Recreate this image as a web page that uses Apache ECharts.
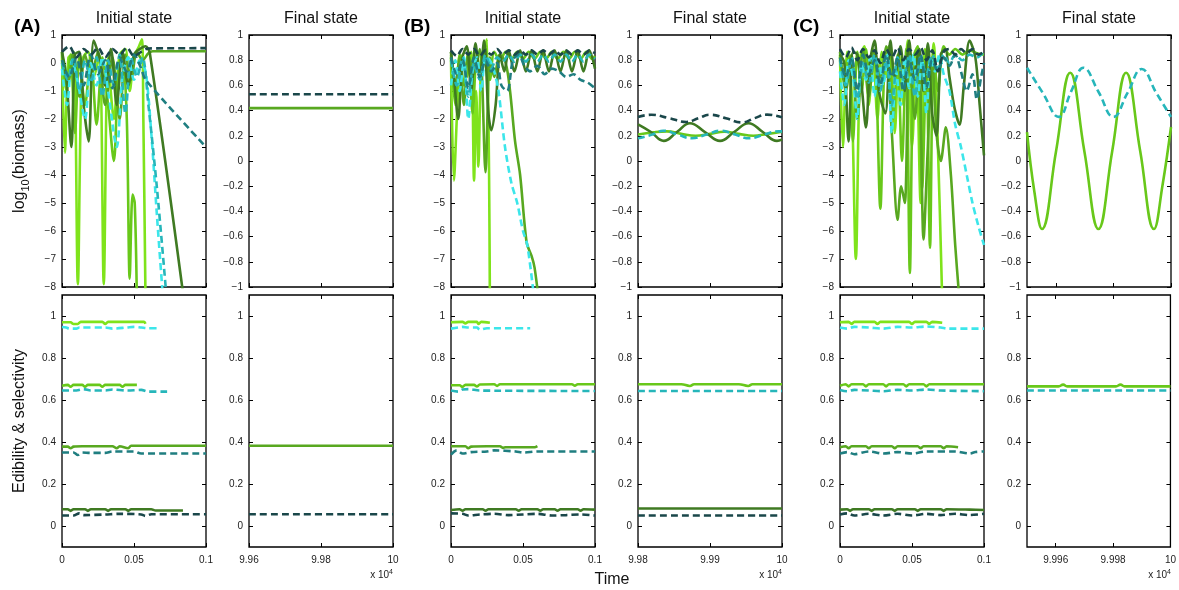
<!DOCTYPE html>
<html><head><meta charset="utf-8">
<script src="https://cdn.jsdelivr.net/npm/echarts@6/dist/echarts.min.js"></script>
<style>html,body{margin:0;padding:0;background:#fff}#c{width:1179px;height:590px}</style>
</head><body><div id="c"></div>
<script>
// ---------- DATA: top row, initial state (log10 biomass) ----------
const A_top_c1 = [[0,0.3],[0.002,-3.2],[0.0045,0.2],[0.008,0.3],[0.011,-7.9],[0.014,0.1],[0.018,0.4],[0.022,-0.5],[0.026,0.3],[0.029,-7.9],[0.032,0.2],[0.036,-2.0],[0.040,0.3],[0.044,0.5],[0.047,-1.0],[0.050,0.2],[0.0535,0.6],[0.0555,0.85],[0.0565,-2.0],[0.058,-8.5]];
const A_top_c2 = [[0,0.4],[0.003,-1.0],[0.006,0.3],[0.009,-2.5],[0.012,0.2],[0.016,-1.5],[0.020,0.3],[0.024,-2.2],[0.028,0.2],[0.032,-1.5],[0.036,-3.5],[0.039,-0.5],[0.042,0.3],[0.045,-2.0],[0.047,-7.7],[0.049,-4.7],[0.0505,-5.0],[0.052,-8.5]];
const A_top_c3 = [[0,0.35],[0.004,-0.8],[0.008,0.4],[0.012,-1.2],[0.016,0.3],[0.020,-0.5],[0.025,0.4],[0.030,-1.5],[0.035,0.2],[0.040,-2.0],[0.044,0.3],[0.048,-0.6],[0.052,0.4],[0.056,0.1],[0.060,0.35],[0.063,0.42],[0.1,0.42]];
const A_top_c4 = [[0,0.4],[0.003,-0.5],[0.0065,-3.0],[0.009,0.3],[0.012,0.4],[0.015,-1.5],[0.0185,-2.8],[0.022,0.8],[0.026,0.2],[0.030,-0.8],[0.034,0.5],[0.038,-1.5],[0.042,0.4],[0.046,-0.8],[0.050,0.3],[0.054,0.5],[0.058,0.6],[0.061,0.35],[0.084,-8.2]];
const A_top_d1 = [[0,-0.2],[0.0035,-1.5],[0.007,0.1],[0.011,-0.7],[0.016,-2.0],[0.020,0.0],[0.024,-0.8],[0.028,0.2],[0.032,-1.0],[0.038,-3.0],[0.042,-0.5],[0.046,0.2],[0.050,-0.6],[0.054,0.1],[0.058,-0.3],[0.062,-2.5],[0.066,-5.5],[0.070,-8.3]];
const A_top_d2 = [[0,0.0],[0.004,-0.6],[0.008,0.2],[0.012,-1.0],[0.016,0.1],[0.020,-0.7],[0.024,0.2],[0.028,-1.2],[0.032,0.1],[0.036,-0.8],[0.040,0.3],[0.044,-1.8],[0.048,0.2],[0.052,-0.5],[0.056,0.2],[0.060,-1.5],[0.066,-4.5],[0.0725,-8.3]];
const A_top_d3 = [[0,0.1],[0.005,-0.5],[0.010,0.2],[0.015,-0.8],[0.020,0.3],[0.025,-0.4],[0.030,0.1],[0.035,-0.9],[0.040,0.2],[0.045,-0.3],[0.050,0.3],[0.055,-0.2],[0.058,-0.6],[0.1,-3.0]];
const A_top_d4 = [[0,0.4],[0.005,0.6],[0.010,0.2],[0.015,0.5],[0.020,0.3],[0.025,0.55],[0.030,0.2],[0.035,0.5],[0.040,0.3],[0.045,0.55],[0.050,0.25],[0.055,0.4],[0.060,0.52],[0.1,0.53]];

const B_top_c1 = [[0,0.2],[0.002,-4.2],[0.005,-1.0],[0.008,0.3],[0.011,-0.5],[0.014,0.4],[0.016,-4.2],[0.0175,-1.0],[0.019,-3.7],[0.021,0.2],[0.023,0.5],[0.025,0.85],[0.027,-8.5]];
const B_top_c2 = [[0,0.3],[0.003,-1.5],[0.006,0.3],[0.009,-0.8],[0.012,0.4],[0.015,-1.8],[0.018,0.3],[0.021,-0.5],[0.024,0.5],[0.027,-0.6],[0.030,0.4],[0.034,0.1],[0.038,0.4],[0.042,0.15],[0.046,0.4],[0.050,0.15],[0.054,0.4],[0.058,0.15],[0.062,0.4],[0.066,0.15],[0.070,0.4],[0.074,0.15],[0.078,0.4],[0.082,0.15],[0.086,0.4],[0.090,0.15],[0.094,0.4],[0.098,0.15],[0.1,0.25]];
const B_top_c3 = [[0,0.4],[0.003,-0.8],[0.006,0.2],[0.009,-1.5],[0.012,0.3],[0.016,-0.4],[0.020,0.5],[0.024,-3.9],[0.027,0.2],[0.030,-0.5],[0.034,0.3],[0.038,0.0],[0.041,-1.0],[0.0445,-2.8],[0.048,-4.0],[0.0525,-6.4],[0.056,-6.9],[0.058,-7.3],[0.061,-8.5]];
const B_top_c4 = [[0,0.4],[0.002,-0.5],[0.005,-2.0],[0.008,0.2],[0.011,0.6],[0.014,-1.0],[0.017,0.7],[0.020,-0.5],[0.023,0.8],[0.026,-1.8],[0.028,-2.4],[0.031,-1.5],[0.034,0.3],[0.037,-0.3],[0.040,0.45],[0.044,-0.3],[0.048,0.45],[0.052,-0.3],[0.056,0.45],[0.060,-0.3],[0.064,0.45],[0.068,-0.3],[0.072,0.45],[0.076,-0.3],[0.080,0.45],[0.084,-0.3],[0.088,0.45],[0.092,-0.3],[0.096,0.45],[0.1,-0.2]];
const B_top_d1 = [[0,-0.8],[0.003,0.1],[0.006,-1.0],[0.009,0.2],[0.012,-2.0],[0.015,-0.3],[0.018,0.2],[0.021,-1.0],[0.024,0.2],[0.027,0.1],[0.030,-0.3],[0.033,-1.0],[0.0375,-3.0],[0.042,-4.3],[0.046,-5.0],[0.050,-6.0],[0.053,-6.5],[0.0575,-8.3]];
const B_top_d2 = [[0,0.1],[0.004,-0.8],[0.008,0.2],[0.012,-1.2],[0.016,0.0],[0.020,-0.6],[0.024,0.3],[0.028,-0.2],[0.032,0.2],[0.036,0.05],[0.040,0.3],[0.044,0.05],[0.048,0.3],[0.052,0.05],[0.056,0.3],[0.060,0.05],[0.064,0.3],[0.068,0.05],[0.072,0.3],[0.076,0.05],[0.080,0.3],[0.084,0.05],[0.088,0.3],[0.092,0.05],[0.096,0.3],[0.1,0.15]];
const B_top_d3 = [[0,0.2],[0.004,-0.4],[0.008,0.1],[0.012,-0.9],[0.016,0.2],[0.020,-0.5],[0.024,0.1],[0.028,-0.3],[0.032,0.0],[0.035,-0.8],[0.039,-1.0],[0.043,0.1],[0.047,0.3],[0.051,-0.1],[0.055,-0.3],[0.060,-0.1],[0.065,-0.4],[0.070,-0.2],[0.075,-0.3],[0.080,-0.5],[0.085,-0.4],[0.090,-0.6],[0.095,-0.7],[0.1,-0.9]];
const B_top_d4 = [[0,0.45],[0.004,0.25],[0.008,0.5],[0.012,0.3],[0.016,0.5],[0.020,0.25],[0.024,0.45],[0.028,0.3],[0.032,0.5],[0.036,0.3],[0.040,0.45],[0.044,0.3],[0.048,0.45],[0.052,0.3],[0.056,0.45],[0.060,0.3],[0.064,0.45],[0.068,0.3],[0.072,0.45],[0.076,0.3],[0.080,0.45],[0.084,0.3],[0.088,0.45],[0.092,0.3],[0.096,0.45],[0.1,0.35]];

const C_top_c1 = [[0,0.3],[0.002,-3.0],[0.005,0.4],[0.008,-1.0],[0.011,-7.0],[0.014,0.2],[0.017,0.6],[0.020,-1.5],[0.023,0.5],[0.026,-2.0],[0.029,0.4],[0.032,-0.5],[0.035,0.7],[0.038,-2.5],[0.041,0.3],[0.044,-1.5],[0.047,0.8],[0.050,-3.0],[0.053,0.4],[0.056,-5.0],[0.059,0.5],[0.062,-1.5],[0.065,0.7],[0.068,-3.0],[0.071,-8.5]];
const C_top_c2 = [[0,0.2],[0.003,-0.5],[0.006,0.3],[0.009,-2.8],[0.012,0.4],[0.015,-1.0],[0.018,0.5],[0.021,-0.8],[0.024,0.3],[0.028,-5.2],[0.031,0.2],[0.034,0.6],[0.037,-2.0],[0.040,0.3],[0.043,-3.5],[0.046,0.5],[0.0485,-7.5],[0.051,0.2],[0.054,0.6],[0.057,-4.5],[0.060,0.3],[0.0625,-6.6],[0.065,0.4],[0.068,-1.0],[0.072,0.6],[0.076,0.3],[0.080,0.5],[0.085,0.3],[0.090,0.45],[0.095,0.35],[0.1,0.3]];
const C_top_c3 = [[0,0.4],[0.004,-1.0],[0.008,0.3],[0.012,-2.0],[0.016,0.5],[0.020,-1.2],[0.024,0.4],[0.028,-0.5],[0.032,0.6],[0.036,-2.5],[0.040,-5.6],[0.0425,-4.4],[0.045,-5.0],[0.048,0.3],[0.052,-2.0],[0.055,0.4],[0.058,-6.3],[0.061,-3.0],[0.064,0.2],[0.067,-2.5],[0.070,-3.5],[0.0735,-2.3],[0.077,-4.0],[0.080,-6.5],[0.083,-8.5]];
const C_top_c4 = [[0,0.3],[0.003,0.0],[0.006,-2.8],[0.009,0.4],[0.012,0.3],[0.015,-0.8],[0.018,-2.3],[0.021,0.1],[0.024,0.8],[0.027,-1.0],[0.0315,-1.8],[0.035,0.8],[0.038,-0.5],[0.042,0.6],[0.045,-1.0],[0.048,0.8],[0.051,-0.5],[0.055,0.5],[0.058,-1.0],[0.061,0.7],[0.064,-1.8],[0.067,-2.6],[0.070,0.3],[0.073,0.5],[0.076,-0.5],[0.0795,-1.6],[0.083,-2.2],[0.086,-0.8],[0.090,0.8],[0.094,0.2],[0.097,-1.5],[0.1,-3.3]];
const C_top_d1 = [[0,-0.3],[0.003,-1.5],[0.006,0.1],[0.009,-0.5],[0.012,-2.0],[0.015,0.0],[0.018,-0.6],[0.021,0.2],[0.024,-1.2],[0.027,0.1],[0.030,-0.8],[0.033,0.3],[0.036,-2.5],[0.039,-0.3],[0.042,-1.5],[0.045,0.2],[0.048,-0.9],[0.051,0.3],[0.054,-1.2],[0.057,0.1],[0.060,-1.8],[0.063,0.2],[0.066,-0.3],[0.069,0.3],[0.072,-0.4],[0.076,-1.0],[0.080,-2.2],[0.084,-3.0],[0.088,-4.0],[0.092,-5.0],[0.096,-5.8],[0.1,-6.5]];
const C_top_d2 = [[0,0.1],[0.004,-0.8],[0.008,0.2],[0.012,-1.3],[0.016,0.0],[0.020,-0.7],[0.024,0.3],[0.028,-1.0],[0.032,0.1],[0.036,-1.5],[0.040,0.2],[0.044,-0.6],[0.048,0.3],[0.052,-1.2],[0.056,0.2],[0.060,-0.4],[0.064,0.3],[0.068,-0.2],[0.072,0.3],[0.076,0.0],[0.080,0.3],[0.085,0.1],[0.090,0.3],[0.095,0.2],[0.1,0.4]];
const C_top_d3 = [[0,0.2],[0.004,-0.5],[0.008,0.2],[0.012,-1.0],[0.016,0.3],[0.020,-0.4],[0.024,0.1],[0.028,-0.8],[0.032,0.3],[0.036,-0.5],[0.040,0.2],[0.044,-1.0],[0.048,0.1],[0.052,-0.6],[0.056,0.3],[0.060,-0.9],[0.064,0.1],[0.068,-0.3],[0.072,0.2],[0.076,-0.1],[0.080,0.3],[0.084,-0.3],[0.088,-1.0],[0.092,-0.4],[0.095,-1.3],[0.098,-0.5],[0.1,0.0]];
const C_top_d4 = [[0,0.5],[0.004,0.2],[0.008,0.55],[0.012,0.1],[0.016,0.5],[0.020,0.2],[0.024,0.45],[0.028,0.0],[0.032,0.5],[0.036,0.2],[0.040,0.55],[0.044,0.1],[0.048,0.5],[0.052,0.3],[0.056,0.55],[0.060,0.1],[0.064,0.45],[0.068,-0.3],[0.072,0.4],[0.076,0.5],[0.080,0.3],[0.084,0.5],[0.088,0.35],[0.092,0.5],[0.096,0.3],[0.1,0.4]];

// ---------- DATA: top row, final state (x in units of 10^4) ----------
const A_fin_c3 = [[9.96,0.42],[10,0.42]];
const A_fin_d4 = [[9.96,0.53],[10,0.53]];
const B_fin_c2 = [[9.98,0.21],[9.9822,0.228],[9.984,0.235],[9.986,0.215],[9.988,0.2],[9.99,0.215],[9.992,0.232],[9.994,0.215],[9.996,0.2],[9.998,0.215],[10,0.232]];
const B_fin_c4 = [[9.98,0.29],[9.9818,0.23],[9.98358,0.16],[9.9854,0.23],[9.98721,0.30],[9.9893,0.23],[9.9914,0.16],[9.99335,0.23],[9.99535,0.30],[9.99733,0.23],[9.9993,0.16],[10,0.17]];
const B_fin_d2 = [[9.98,0.18],[9.982,0.21],[9.9835,0.24],[9.9855,0.21],[9.9875,0.18],[9.9895,0.21],[9.9915,0.24],[9.9935,0.21],[9.9955,0.18],[9.9975,0.21],[9.9995,0.235],[10,0.235]];
const B_fin_d4 = [[9.98,0.35],[9.98186,0.367],[9.9843,0.34],[9.98674,0.31],[9.9884,0.34],[9.99,0.367],[9.9922,0.34],[9.99442,0.306],[9.9962,0.34],[9.99791,0.368],[10,0.347]];
const C_fin_c2 = [[9.995,0.23],[9.99526,-0.25],[9.99552,-0.54],[9.99601,0.08],[9.9965,0.70],[9.99699,0.08],[9.99748,-0.54],[9.99796,0.08],[9.99844,0.70],[9.99893,0.08],[9.99941,-0.54],[9.9997,-0.2],[10,0.27]];
const C_fin_d2 = [[9.995,0.74],[9.99555,0.54],[9.9961,0.35],[9.99653,0.55],[9.99696,0.74],[9.99748,0.55],[9.998,0.35],[9.99849,0.54],[9.99898,0.73],[9.99949,0.54],[10,0.35]];

// ---------- DATA: bottom row, initial state (edibility & selectivity) ----------
const A_bot_c1 = [[0,0.97],[0.006,0.97],[0.008,0.962],[0.011,0.962],[0.013,0.972],[0.028,0.972],[0.030,0.962],[0.032,0.972],[0.057,0.972],[0.058,0.963]];
const A_bot_c2 = [[0,0.668],[0.004,0.672],[0.006,0.663],[0.008,0.672],[0.014,0.672],[0.016,0.663],[0.018,0.672],[0.026,0.672],[0.028,0.663],[0.030,0.672],[0.040,0.672],[0.042,0.663],[0.044,0.672],[0.052,0.672]];
const A_bot_c3 = [[0,0.378],[0.004,0.378],[0.006,0.37],[0.008,0.378],[0.014,0.38],[0.035,0.38],[0.038,0.37],[0.040,0.38],[0.046,0.37],[0.048,0.382],[0.1,0.382]];
const A_bot_c4 = [[0,0.08],[0.004,0.08],[0.006,0.072],[0.008,0.08],[0.016,0.08],[0.018,0.072],[0.020,0.08],[0.030,0.08],[0.032,0.072],[0.034,0.08],[0.044,0.08],[0.046,0.072],[0.048,0.08],[0.062,0.08],[0.065,0.074],[0.084,0.074]];
const A_bot_d1 = [[0,0.948],[0.003,0.945],[0.005,0.940],[0.010,0.940],[0.012,0.945],[0.030,0.945],[0.035,0.940],[0.045,0.945],[0.050,0.948],[0.055,0.945],[0.060,0.942],[0.066,0.942]];
const A_bot_d2 = [[0,0.645],[0.010,0.645],[0.015,0.652],[0.020,0.645],[0.030,0.645],[0.035,0.650],[0.045,0.645],[0.055,0.648],[0.060,0.640],[0.073,0.640]];
const A_bot_d3 = [[0,0.35],[0.008,0.35],[0.011,0.338],[0.014,0.35],[0.020,0.348],[0.030,0.348],[0.035,0.355],[0.050,0.355],[0.055,0.345],[0.1,0.345]];
const A_bot_d4 = [[0,0.05],[0.008,0.05],[0.012,0.06],[0.015,0.052],[0.030,0.055],[0.040,0.058],[0.055,0.055],[0.058,0.048],[0.062,0.056],[0.1,0.056]];

const B_bot_c1 = [[0,0.97],[0.008,0.972],[0.010,0.965],[0.012,0.972],[0.018,0.972],[0.019,0.962],[0.021,0.972],[0.027,0.968]];
const B_bot_c2 = [[0,0.67],[0.006,0.67],[0.008,0.662],[0.010,0.672],[0.016,0.672],[0.018,0.664],[0.020,0.674],[0.030,0.675],[0.032,0.667],[0.034,0.675],[0.084,0.675],[0.086,0.668],[0.088,0.675],[0.1,0.675]];
const B_bot_c3 = [[0,0.38],[0.010,0.38],[0.012,0.37],[0.014,0.378],[0.025,0.38],[0.034,0.38],[0.036,0.372],[0.038,0.375],[0.058,0.375],[0.060,0.38]];
const B_bot_c4 = [[0,0.076],[0.006,0.08],[0.008,0.073],[0.010,0.08],[0.022,0.08],[0.024,0.073],[0.026,0.08],[0.045,0.08],[0.047,0.073],[0.049,0.08],[0.060,0.08],[0.062,0.073],[0.064,0.08],[0.072,0.08],[0.074,0.073],[0.076,0.08],[0.088,0.08],[0.090,0.073],[0.092,0.08],[0.1,0.078]];
const B_bot_d1 = [[0,0.94],[0.005,0.945],[0.008,0.948],[0.012,0.945],[0.018,0.945],[0.020,0.935],[0.025,0.942],[0.055,0.942]];
const B_bot_d2 = [[0,0.645],[0.005,0.64],[0.008,0.65],[0.012,0.652],[0.020,0.645],[0.1,0.643]];
const B_bot_d3 = [[0,0.34],[0.004,0.36],[0.008,0.345],[0.014,0.352],[0.025,0.355],[0.030,0.36],[0.045,0.355],[0.050,0.35],[0.060,0.355],[0.1,0.355]];
const B_bot_d4 = [[0,0.06],[0.008,0.058],[0.012,0.05],[0.020,0.055],[0.030,0.058],[0.040,0.052],[0.050,0.055],[0.060,0.058],[0.070,0.05],[0.080,0.052],[0.090,0.055],[0.1,0.05]];

const C_bot_c1 = [[0,0.97],[0.006,0.972],[0.008,0.962],[0.010,0.972],[0.024,0.972],[0.026,0.962],[0.028,0.972],[0.048,0.972],[0.050,0.962],[0.052,0.972],[0.060,0.972],[0.062,0.962],[0.064,0.972],[0.071,0.968]];
const C_bot_c2 = [[0,0.668],[0.004,0.675],[0.006,0.665],[0.008,0.675],[0.016,0.675],[0.018,0.665],[0.020,0.675],[0.030,0.675],[0.032,0.665],[0.034,0.675],[0.044,0.675],[0.046,0.665],[0.048,0.675],[0.058,0.675],[0.060,0.665],[0.062,0.675],[0.1,0.675]];
const C_bot_c3 = [[0,0.375],[0.004,0.38],[0.006,0.37],[0.008,0.38],[0.018,0.38],[0.020,0.37],[0.022,0.38],[0.036,0.38],[0.038,0.37],[0.040,0.38],[0.054,0.38],[0.056,0.37],[0.058,0.38],[0.070,0.38],[0.072,0.37],[0.074,0.38],[0.082,0.375]];
const C_bot_c4 = [[0,0.078],[0.005,0.08],[0.007,0.072],[0.009,0.08],[0.020,0.08],[0.022,0.072],[0.024,0.08],[0.036,0.08],[0.038,0.072],[0.040,0.08],[0.052,0.08],[0.054,0.072],[0.056,0.08],[0.070,0.08],[0.072,0.072],[0.074,0.08],[0.090,0.078],[0.1,0.076]];
const C_bot_d1 = [[0,0.945],[0.005,0.94],[0.010,0.948],[0.020,0.945],[0.030,0.94],[0.040,0.948],[0.050,0.945],[0.060,0.95],[0.070,0.945],[0.075,0.94],[0.1,0.94]];
const C_bot_d2 = [[0,0.648],[0.005,0.642],[0.010,0.648],[0.020,0.645],[0.030,0.642],[0.040,0.648],[0.050,0.645],[0.060,0.65],[0.070,0.645],[0.1,0.642]];
const C_bot_d3 = [[0,0.345],[0.005,0.352],[0.010,0.342],[0.020,0.355],[0.030,0.345],[0.040,0.352],[0.050,0.345],[0.060,0.355],[0.080,0.355],[0.090,0.345],[0.094,0.352],[0.1,0.355]];
const C_bot_d4 = [[0,0.055],[0.005,0.06],[0.010,0.05],[0.020,0.058],[0.030,0.05],[0.040,0.058],[0.050,0.05],[0.060,0.058],[0.070,0.052],[0.080,0.058],[0.090,0.052],[0.1,0.058]];

// ---------- DATA: bottom row, final state ----------
const A_finb_c3 = [[9.96,0.382],[10,0.382]];
const A_finb_d4 = [[9.96,0.056],[10,0.056]];
const B_finb_c2 = [[9.98,0.675],[9.986,0.675],[9.9872,0.667],[9.9878,0.675],[9.994,0.675],[9.9953,0.667],[9.9959,0.675],[10,0.675]];
const B_finb_c4 = [[9.98,0.083],[10,0.083]];
const B_finb_d2 = [[9.98,0.643],[10,0.643]];
const B_finb_d4 = [[9.98,0.05],[10,0.05]];
const C_finb_c2 = [[9.995,0.665],[9.9961,0.665],[9.99626,0.673],[9.9964,0.665],[9.9981,0.665],[9.99826,0.673],[9.9984,0.665],[10,0.665]];
const C_finb_d2 = [[9.995,0.645],[10,0.645]];

// ---------- tick labels ----------
const xTicksInit = [0, 0.05, 0.1];
const xTicksFinA = [9.96, 9.98, 10];
const xTicksFinB = [9.98, 9.99, 10];
const xTicksFinC = [9.996, 9.998, 10];
const yTicksTopInit = [-8,-7,-6,-5,-4,-3,-2,-1,0,1];
const yTicksTopFin = [-1,-0.8,-0.6,-0.4,-0.2,0,0.2,0.4,0.6,0.8,1];
const yTicksBottom = [0,0.2,0.4,0.6,0.8,1];

// ---------- styles ----------
const COL = {c1:'#7FE31B', c2:'#68C81A', c3:'#58A820', c4:'#3F7A22', d1:'#3CE6EA', d2:'#26B6BA', d3:'#1F7E80', d4:'#1A474A'};
const FONT = '"Liberation Sans", Arial, Helvetica, sans-serif';
const colsL = [62, 249, 451, 638, 840, 1027];
const colW = 144;
const rowT = [35, 295];
const rowH = 252;

const fmtNum = v => { const r = Math.round(v*1000)/1000; return String(r).replace('-', '\u2212'); };

const panels = [
  {row:0,col:0,x:[0,0.1],xt:xTicksInit,y:[-8,1],yt:yTicksTopInit,s:{c1:A_top_c1,c2:A_top_c2,c3:A_top_c3,c4:A_top_c4,d1:A_top_d1,d2:A_top_d2,d3:A_top_d3,d4:A_top_d4}},
  {row:0,col:1,x:[9.96,10],xt:xTicksFinA,y:[-1,1],yt:yTicksTopFin,s:{c3:A_fin_c3,d4:A_fin_d4}},
  {row:0,col:2,x:[0,0.1],xt:xTicksInit,y:[-8,1],yt:yTicksTopInit,s:{c1:B_top_c1,c2:B_top_c2,c3:B_top_c3,c4:B_top_c4,d1:B_top_d1,d2:B_top_d2,d3:B_top_d3,d4:B_top_d4}},
  {row:0,col:3,x:[9.98,10],xt:xTicksFinB,y:[-1,1],yt:yTicksTopFin,s:{c2:B_fin_c2,c4:B_fin_c4,d2:B_fin_d2,d4:B_fin_d4}},
  {row:0,col:4,x:[0,0.1],xt:xTicksInit,y:[-8,1],yt:yTicksTopInit,s:{c1:C_top_c1,c2:C_top_c2,c3:C_top_c3,c4:C_top_c4,d1:C_top_d1,d2:C_top_d2,d3:C_top_d3,d4:C_top_d4}},
  {row:0,col:5,x:[9.995,10],xt:xTicksFinC,y:[-1,1],yt:yTicksTopFin,s:{d2:C_fin_d2,c2:C_fin_c2}},
  {row:1,col:0,x:[0,0.1],xt:xTicksInit,y:[-0.1,1.1],yt:yTicksBottom,s:{c1:A_bot_c1,c2:A_bot_c2,c3:A_bot_c3,c4:A_bot_c4,d1:A_bot_d1,d2:A_bot_d2,d3:A_bot_d3,d4:A_bot_d4}},
  {row:1,col:1,x:[9.96,10],xt:xTicksFinA,y:[-0.1,1.1],yt:yTicksBottom,s:{c3:A_finb_c3,d4:A_finb_d4}},
  {row:1,col:2,x:[0,0.1],xt:xTicksInit,y:[-0.1,1.1],yt:yTicksBottom,s:{c1:B_bot_c1,c2:B_bot_c2,c3:B_bot_c3,c4:B_bot_c4,d1:B_bot_d1,d2:B_bot_d2,d3:B_bot_d3,d4:B_bot_d4}},
  {row:1,col:3,x:[9.98,10],xt:xTicksFinB,y:[-0.1,1.1],yt:yTicksBottom,s:{c2:B_finb_c2,c4:B_finb_c4,d2:B_finb_d2,d4:B_finb_d4}},
  {row:1,col:4,x:[0,0.1],xt:xTicksInit,y:[-0.1,1.1],yt:yTicksBottom,s:{c1:C_bot_c1,c2:C_bot_c2,c3:C_bot_c3,c4:C_bot_c4,d1:C_bot_d1,d2:C_bot_d2,d3:C_bot_d3,d4:C_bot_d4}},
  {row:1,col:5,x:[9.995,10],xt:xTicksFinC,y:[-0.1,1.1],yt:yTicksBottom,s:{d2:C_finb_d2,c2:C_finb_c2}}
];

const grid = [], xAxis = [], yAxis = [], series = [];
const tickStyle = {color:'#000', width:1};
const lbl = {color:'#222', fontSize:10, fontFamily:FONT};
const noLine = {show:false, onZero:false};
panels.forEach((p, i) => {
  grid.push({left:colsL[p.col], top:rowT[p.row], width:colW, height:rowH, show:true, borderColor:'#000', borderWidth:1.3, backgroundColor:'transparent'});
  const xb = {gridIndex:i, type:'value', min:p.x[0], max:p.x[1], position:'bottom', axisLine:noLine,
    axisTick:{show:true, inside:true, length:4, customValues:p.xt, lineStyle:tickStyle},
    axisLabel:{show:p.row===1, customValues:p.xt, formatter:fmtNum, margin:8, ...lbl}, splitLine:{show:false}};
  const xt = {gridIndex:i, type:'value', min:p.x[0], max:p.x[1], position:'top', axisLine:noLine,
    axisTick:{show:true, inside:true, length:4, customValues:p.xt, lineStyle:tickStyle},
    axisLabel:{show:false}, splitLine:{show:false}};
  const yl = {gridIndex:i, type:'value', min:p.y[0], max:p.y[1], position:'left', axisLine:noLine,
    axisTick:{show:true, inside:true, length:4, customValues:p.yt, lineStyle:tickStyle},
    axisLabel:{show:true, customValues:p.yt, formatter:fmtNum, margin:6, ...lbl}, splitLine:{show:false}};
  const yr = {gridIndex:i, type:'value', min:p.y[0], max:p.y[1], position:'right', axisLine:noLine,
    axisTick:{show:true, inside:true, length:4, customValues:p.yt, lineStyle:tickStyle},
    axisLabel:{show:false}, splitLine:{show:false}};
  const xi = xAxis.length; xAxis.push(xb, xt);
  const yi = yAxis.length; yAxis.push(yl, yr);
  const isFin = p.col % 2 === 1;
  Object.keys(p.s).forEach(k => {
    const dashed = k[0] === 'd';
    series.push({type:'line', xAxisIndex:xi, yAxisIndex:yi, data:p.s[k], showSymbol:false, symbol:'none',
      smooth: isFin ? 0.45 : 0.3, clip:true, silent:true, animation:false,
      z: dashed ? 3 : 2,
      lineStyle:{color:COL[k], width:2.6, type: dashed ? [7,4] : 'solid', cap:'butt'}});
  });
});

const graphic = [];
const titleFont = {fontSize:16, fontFamily:FONT, fill:'#111'};
[0,2,4].forEach(c => graphic.push({type:'text', x:colsL[c]+colW/2, y:19, style:{text:'Initial state', align:'center', verticalAlign:'middle', ...titleFont}}));
[1,3,5].forEach(c => graphic.push({type:'text', x:colsL[c]+colW/2, y:19, style:{text:'Final state', align:'center', verticalAlign:'middle', ...titleFont}}));
[['(A)',14],['(B)',404],['(C)',793]].forEach(([t,x]) => graphic.push({type:'text', x:x, y:27, style:{text:t, align:'left', verticalAlign:'middle', fontSize:19, fontWeight:'bold', fontFamily:FONT, fill:'#000'}}));
graphic.push({type:'text', x:20, y:161, rotation:Math.PI/2, style:{text:'{n|log}{s|10}{n|(biomass)}', align:'center', verticalAlign:'middle',
  rich:{n:{fontSize:16, fontFamily:FONT, fill:'#111', lineHeight:22}, s:{fontSize:11, fontFamily:FONT, fill:'#111', verticalAlign:'bottom'}}}});
graphic.push({type:'text', x:20, y:421, rotation:Math.PI/2, style:{text:'Edibility & selectivity', align:'center', verticalAlign:'middle', ...titleFont}});
graphic.push({type:'text', x:612, y:580, style:{text:'Time', align:'center', verticalAlign:'middle', ...titleFont}});
[1,3,5].forEach(c => graphic.push({type:'text', x:colsL[c]+colW, y:575, style:{text:'{a|x 10}{b|4}', align:'right', verticalAlign:'middle',
  rich:{a:{fontSize:10, fontFamily:FONT, fill:'#222'}, b:{fontSize:7, fontFamily:FONT, fill:'#222', verticalAlign:'top', padding:[0,0,6,0]}}}}));

const chart = echarts.init(document.getElementById('c'), null, {renderer:'canvas'});
chart.setOption({animation:false, backgroundColor:'#fff', grid, xAxis, yAxis, series, graphic});
</script></body></html>
